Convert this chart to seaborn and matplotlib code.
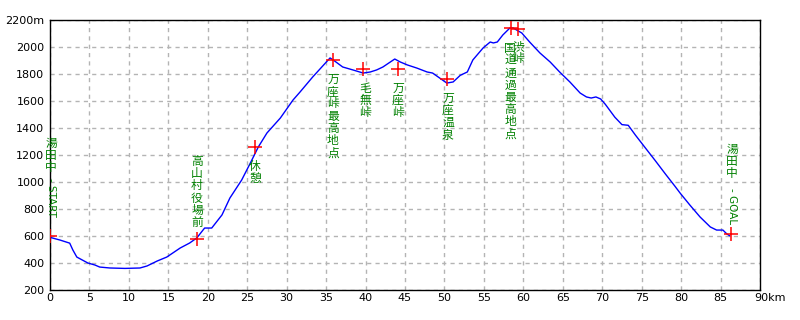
import matplotlib
matplotlib.use("Agg")
import matplotlib.pyplot as plt
import seaborn as sns
import pandas as pd
from matplotlib import transforms

# ---- profile data (km, m) ----
dist_km = [0, 1.27, 2.5, 2.9, 3.4, 4.1, 4.8, 5.7, 6.3, 7.6, 9.5, 11.4, 12.3, 13.6,
           14.8, 16.5, 17.7, 18.6, 19.6, 20.5, 21.8, 22.8, 24.3, 25.4, 26.4, 27.5,
           29.2, 30.8, 31.7, 33.3, 35.5, 35.9, 37.1, 38.4, 39.7, 40.6, 41.4, 42.2,
           43.7, 44.4, 45.3, 46.5, 47.8, 48.5, 49.4, 50.3, 51.1, 52.0, 52.9, 53.6,
           54.9, 55.8, 56.2, 56.7, 57.4, 58.3, 58.7, 59.8, 60.8, 62.1, 63.4, 64.6,
           65.9, 67.2, 68.0, 68.6, 69.2, 69.8, 70.4, 71.6, 72.5, 73.3, 74.2, 75.5,
           76.7, 78.0, 79.2, 79.9, 81.1, 82.4, 83.7, 84.5, 85.3, 85.8, 86.2]
elev_m = [590, 570, 547, 496, 444, 422, 400, 385, 370, 363, 360, 363, 378, 415,
          444, 511, 548, 585, 659, 659, 756, 881, 1015, 1141, 1259, 1363,
          1474, 1607, 1667, 1778, 1919, 1904, 1852, 1830, 1807, 1815, 1830, 1852,
          1911, 1889, 1867, 1844, 1815, 1807, 1770, 1733, 1741, 1790, 1815, 1904,
          1993, 2037, 2030, 2037, 2089, 2141, 2141, 2104, 2037, 1956, 1889, 1815,
          1741, 1659, 1630, 1622, 1630, 1615, 1575, 1480, 1425, 1420, 1348, 1250,
          1160, 1060, 970, 916, 830, 741, 667, 644, 644, 615, 600]

# ---- waypoints ----
wp_km = [0, 18.6, 26.0, 35.9, 39.7, 44.1, 50.3, 58.4, 59.3, 86.3]
wp_elev = [600, 580, 1259, 1904, 1837, 1837, 1763, 2141, 2133, 615]
wp_names = ["湯田中", "高山村役場前", "休憩", "万座峠最高地点", "毛無峠", "万座峠",
            "万座温泉", "国道通過最高地点", "渋峠", "湯田中"]
wp_suffix = ["- START", "", "", "", "", "", "", "", "", "- GOAL"]
label_x = [0.13, 18.63, 25.99, 35.87, 39.93, 44.11, 50.45, 58.31, 59.32, 86.45]
label_top = [1333, 1200, 1163, 1807, 1741, 1741, 1667, 2037, 2052, 1289]
suffix_top = [1030, None, None, None, None, None, None, None, None, 955]

x_ticks = list(range(0, 95, 5))
x_tick_labels = [str(v) for v in x_ticks[:-1]] + ["90km"]
y_ticks = list(range(200, 2400, 200))
y_tick_labels = [str(v) for v in y_ticks[:-1]] + ["2200m"]

sns.set_theme(style="white")
plt.rcParams['font.family'] = ['DejaVu Sans', 'Noto Sans CJK JP']

fig = plt.figure(figsize=(8, 3.2), dpi=100)
ax = fig.add_axes([50 / 800, 30 / 320, 710 / 800, 270 / 320])

prof = pd.DataFrame({"km": dist_km, "m": elev_m})
wps = pd.DataFrame({"km": wp_km, "m": wp_elev})

sns.lineplot(data=prof, x="km", y="m", ax=ax, color="#0000ff", linewidth=1,
             zorder=3, sort=False)
sns.scatterplot(data=wps, x="km", y="m", ax=ax, marker="+", color="#ff0000",
                s=100, linewidth=1.1, zorder=4)

ax.set_xlim(0, 90)
ax.set_ylim(200, 2200)
ax.set_xticks(x_ticks)
ax.set_xticklabels(x_tick_labels)
ax.set_yticks(y_ticks)
ax.set_yticklabels(y_tick_labels)
ax.set_xlabel("")
ax.set_ylabel("")
ax.tick_params(axis="both", length=0, labelsize=8, colors="black")
ax.tick_params(axis="y", pad=4)
ax.tick_params(axis="x", pad=2)
lab = ax.get_xticklabels()[-1]
lab.set_ha("left")
lab.set_transform(lab.get_transform() +
                  transforms.ScaledTranslation(-0.06, 0, fig.dpi_scale_trans))

ax.grid(True, color="#b4b4b4", linestyle=(0, (3, 3)), linewidth=1)
ax.set_axisbelow(True)
for sp in ax.spines.values():
    sp.set_visible(True)
    sp.set_color("black")
    sp.set_linewidth(1)

cjk = ['Noto Sans CJK JP', 'DejaVu Sans']
for name, suf, lx, lt, st in zip(wp_names, wp_suffix, label_x, label_top, suffix_top):
    ax.text(lx, lt, "\n".join(name), ha="center", va="top", color="#008000",
            fontsize=8.5, linespacing=0.92, family=cjk, zorder=5, clip_on=False)
    if suf:
        ax.text(lx, st, suf, ha="center", va="top", rotation=-90,
                color="#008000", fontsize=7.5, family=['DejaVu Sans'],
                zorder=5, clip_on=False)

fig.savefig("out.png", dpi=100)
